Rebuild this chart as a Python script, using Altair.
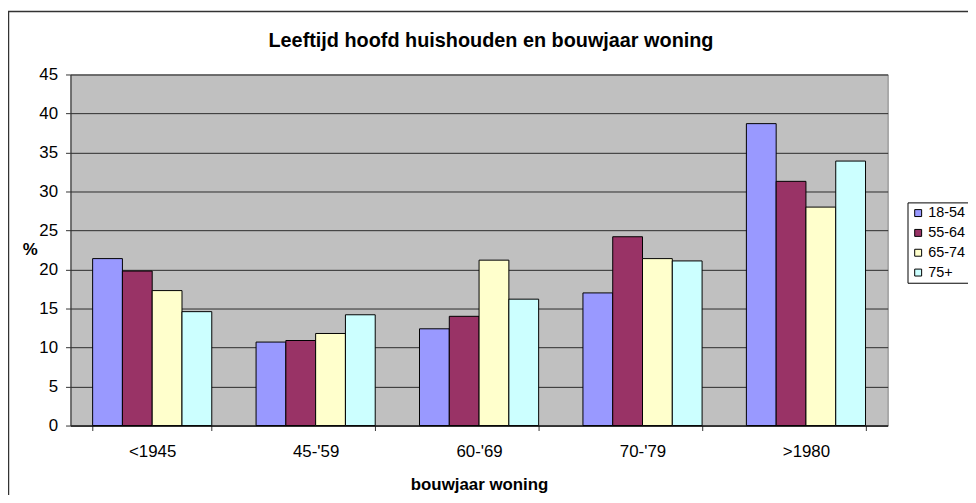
import altair as alt
import pandas as pd

categories = ["<1945", "45-'59", "60-'69", "70-'79", ">1980"]
series = ["18-54", "55-64", "65-74", "75+"]
v_18_54 = [21.4, 10.7, 12.4, 17.0, 38.7]
v_55_64 = [19.8, 10.9, 14.0, 24.2, 31.3]
v_65_74 = [17.3, 11.8, 21.2, 21.4, 28.0]
v_75plus = [14.6, 14.2, 16.2, 21.1, 33.9]
colors = ["#9999FF", "#993366", "#FFFFCC", "#CCFFFF"]
y_ticks = [0, 5, 10, 15, 20, 25, 30, 35, 40, 45]
title_text = "Leeftijd hoofd huishouden en bouwjaar woning"

rows = []
for i, c in enumerate(categories):
    for s, vals in zip(series, [v_18_54, v_55_64, v_65_74, v_75plus]):
        rows.append({"bouwjaar": c, "leeftijd": s, "pct": vals[i]})
df = pd.DataFrame(rows)

FONT = "Liberation Sans"
W, H = 824, 354

bars = alt.Chart(df).mark_bar(stroke="black", strokeWidth=1).encode(
    x=alt.X(
        "bouwjaar:N", sort=categories,
        scale=alt.Scale(paddingInner=0.271, paddingOuter=0.1355),
        axis=alt.Axis(
            title="bouwjaar woning", labelAngle=0, tickBand="extent", tickSize=5,
            tickColor="#333333", domainColor="#000000", labelFont=FONT, labelFontSize=17,
            labelColor="black", labelBaseline="alphabetic", labelPadding=26,
            titleFont=FONT, titleFontSize=17, titleFontWeight="bold", titleColor="black",
            titleY=64, titleBaseline="alphabetic", grid=False,
        ),
    ),
    xOffset=alt.XOffset("leeftijd:N", sort=series,
                        scale=alt.Scale(paddingInner=0, paddingOuter=0)),
    y=alt.Y(
        "pct:Q", scale=alt.Scale(domain=[0, 45], nice=False),
        axis=alt.Axis(
            values=y_ticks, title="%", titleAngle=0, titleX=-41, titleY=H / 2,
            titleAlign="center", titleBaseline="middle", titleFont=FONT,
            titleFontSize=17, titleFontWeight="bold", titleColor="black",
            labelFont=FONT, labelFontSize=17, labelColor="black", labelPadding=8,
            tickSize=5, tickColor="#333333", domainColor="#333333",
            grid=True, gridColor="#2a2a2a", gridWidth=1,
        ),
    ),
    color=alt.Color(
        "leeftijd:N", sort=series,
        scale=alt.Scale(domain=series, range=colors),
        legend=alt.Legend(
            title=None, orient="none", legendX=844, legendY=129,
            symbolType="square", symbolSize=49, symbolStrokeColor="black",
            symbolStrokeWidth=1, labelFont=FONT, labelFontSize=14.5, labelColor="black",
            strokeColor="black", fillColor="white", padding=3.5, rowPadding=5,
            symbolOffset=0, labelOffset=3,
        ),
    ),
)

one = pd.DataFrame({"k": [0]})
border_left = alt.Chart(one).mark_rule(color="#333333", strokeWidth=1.5).encode(
    x=alt.value(-62.5), y=alt.value(-63.5), y2=alt.value(H + 80)
)
border_top = alt.Chart(one).mark_rule(color="#333333", strokeWidth=1.5).encode(
    x=alt.value(-63), x2=alt.value(W + 90), y=alt.value(-63.5)
)
title = alt.Chart(one).mark_text(
    font=FONT, fontSize=20, fontWeight="bold", color="black",
    align="center", baseline="middle",
).encode(x=alt.value(424), y=alt.value(-34), text=alt.value(title_text))

chart = alt.layer(border_left, border_top, title, bars).properties(
    width=W, height=H,
    padding={"left": 63, "top": 65, "right": 81, "bottom": 68},
    autosize=alt.AutoSizeParams(type="none"),
    background="white",
).configure_view(fill="#C0C0C0", stroke="#808080", strokeWidth=1)

chart.save("out.html", embed_options={"renderer": "svg", "actions": False})
